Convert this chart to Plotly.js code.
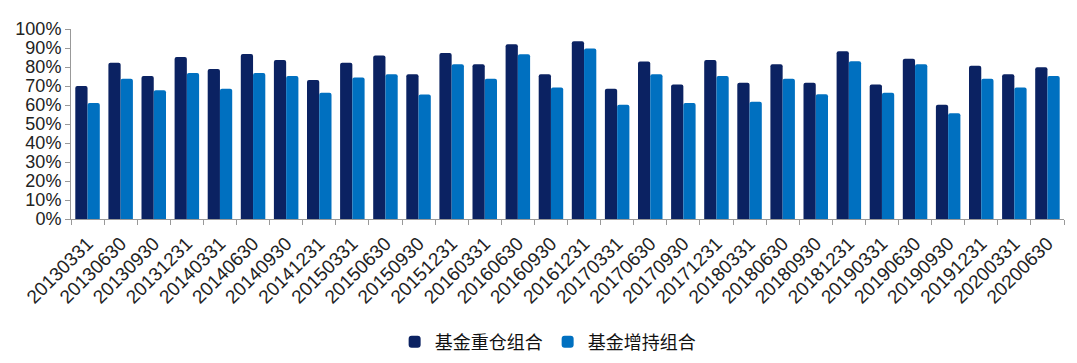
<!DOCTYPE html>
<html>
<head>
<meta charset="utf-8">
<script src="https://cdn.plot.ly/plotly-3.0.1.min.js"></script>
<style>html,body{margin:0;padding:0;background:#fff;}#chart{width:1077px;height:363px;}</style>
</head>
<body>
<div id="chart"></div>
<script>
var categories = ["20130331","20130630","20130930","20131231","20140331","20140630","20140930","20141231","20150331","20150630","20150930","20151231","20160331","20160630","20160930","20161231","20170331","20170630","20170930","20171231","20180331","20180630","20180930","20181231","20190331","20190630","20190930","20191231","20200331","20200630"];
var heavyValues = [70,82.2,75.3,85.3,79,86.9,83.7,73.1,82.2,86,76.2,87.4,81.5,92,76.2,93.5,68.5,82.9,70.8,83.7,71.7,81.5,71.7,88.3,70.8,84.4,60.1,80.6,76.2,79.9];
var addValues = [61,73.8,67.8,76.9,68.5,76.9,75.3,66.4,74.5,76.2,65.5,81.5,73.8,86.7,69.2,89.7,60.1,76.2,61,75.3,61.7,73.8,65.6,83,66.4,81.5,55.6,73.8,69.2,75.3];
var seriesNames = ["基金重仓组合","基金增持组合"];

var traces = [
  {type:"bar", name:seriesNames[0], x:categories, y:heavyValues, marker:{color:"#0b2262"}},
  {type:"bar", name:seriesNames[1], x:categories, y:addValues, marker:{color:"#0070c0"}}
];
var layout = {
  width:1077, height:363,
  margin:{l:71, r:13, t:29, b:144, autoexpand:false},
  paper_bgcolor:"#fff", plot_bgcolor:"#fff",
  barmode:"group", bargap:0.26, bargroupgap:-0.08,
  barcornerradius:2,
  font:{family:"Liberation Sans, Arial, sans-serif", color:"#222", size:18},
  xaxis:{type:"category", tickangle:-45, showline:true, linecolor:"#999", linewidth:1,
         ticks:"outside", ticklen:5, tickcolor:"#999", tickson:"boundaries", automargin:false,
         ticklabelstandoff:5,
         tickfont:{size:19, color:"#222"}, showgrid:false, zeroline:false},
  yaxis:{range:[0,100], dtick:10, ticksuffix:"%", showline:true, linecolor:"#999", linewidth:1,
         ticks:"outside", ticklen:5, tickcolor:"#999", showgrid:false, zeroline:false, automargin:false,
         tickfont:{size:18, color:"#222"}},
  showlegend:true,
  legend:{orientation:"h", x:0.48, xanchor:"center", yref:"container", y:0.058, yanchor:"middle",
          font:{family:"Noto Sans CJK SC, sans-serif", size:18, color:"#111"},
          itemwidth:30, traceorder:"normal"}
};
Plotly.newPlot("chart", traces, layout, {staticPlot:true, displayModeBar:false});
</script>
</body>
</html>
